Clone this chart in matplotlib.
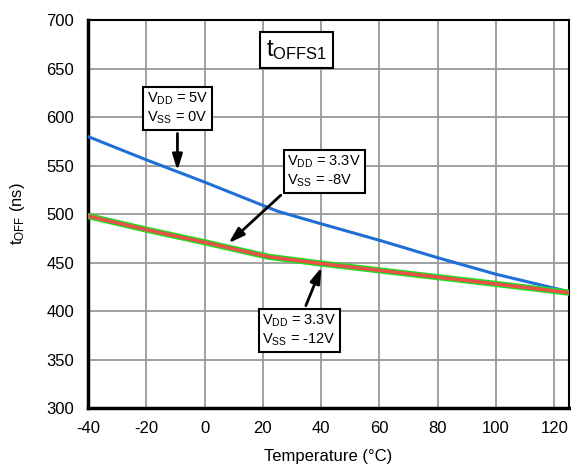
import matplotlib
matplotlib.use("Agg")
import matplotlib.pyplot as plt

plt.rcParams['font.family'] = ['Liberation Sans', 'DejaVu Sans']
plt.rcParams['mathtext.default'] = 'regular'
plt.rcParams['axes.unicode_minus'] = False

# data
temp_5v = [-40, -20, 0, 25, 40, 60, 80, 100, 125]
toff_5v = [580, 556, 533, 503, 490, 473, 455, 438, 420]

temp_33v = [-40, -20, 0, 22, 40, 60, 80, 100, 125]
toff_33v_8 = [498, 484, 471, 456, 449, 442, 435, 428, 419]
toff_33v_12 = [498, 484, 471, 456, 449, 442, 435, 428, 419]

x_ticks = [-40, -20, 0, 20, 40, 60, 80, 100, 120]
y_ticks = [300, 350, 400, 450, 500, 550, 600, 650, 700]

fig = plt.figure(figsize=(5.71, 4.68), dpi=100)
ax = fig.add_axes([0.154, 0.128, 0.8425, 0.829])

ax.plot(temp_5v, toff_5v, color='#1f6fd6', lw=2.2, zorder=3)
ax.plot(temp_33v, toff_33v_8, color='#22dd22', lw=4.5, zorder=3)
ax.plot(temp_33v, toff_33v_12, color='#e8504a', lw=2.5, zorder=4)

ax.set_xlim(-40, 125)
ax.set_ylim(300, 700)
ax.set_xticks(x_ticks)
ax.set_yticks(y_ticks)
ax.tick_params(length=0, labelsize=12)
ax.tick_params(axis='y', pad=10)
ax.tick_params(axis='x', pad=9)
ax.grid(True, color='#999999', lw=1.3)
ax.set_axisbelow(True)
for s in ax.spines.values():
    s.set_linewidth(1.5)
ax.spines['left'].set_linewidth(2.5)
ax.spines['bottom'].set_linewidth(2.5)

ax.set_xlabel('Temperature (°C)', fontsize=12, labelpad=10)
ax.set_ylabel('t$_{OFF}$ (ns)', fontsize=12, labelpad=14)

box = dict(boxstyle='square,pad=0.25', fc='white', ec='black', lw=1.5)
arrow = dict(arrowstyle='-|>,head_length=0.9,head_width=0.28', color='black', lw=2)

ax.text(31.5, 669, 't$_{OFFS1}$', fontsize=17, ha='center', va='center', bbox=box, zorder=6)

ax.annotate('V$_{DD}$ = 5V\nV$_{SS}$ = 0V', xy=(-9.3, 542), xytext=(-9.3, 609),
            fontsize=10.5, ha='center', va='center', multialignment='left', bbox=box,
            arrowprops=arrow, linespacing=1.25, zorder=6)
ax.annotate('V$_{DD}$ = 3.3V\nV$_{SS}$ = -8V', xy=(7.5, 468), xytext=(41, 544),
            fontsize=10.5, ha='center', va='center', multialignment='left', bbox=box,
            arrowprops=dict(arrow, relpos=(0.0, 0.0)), linespacing=1.25, zorder=6)
ax.annotate('V$_{DD}$ = 3.3V\nV$_{SS}$ = -12V', xy=(40.5, 448), xytext=(32.5, 380),
            fontsize=10.5, ha='center', va='center', multialignment='left', bbox=box,
            arrowprops=dict(arrow, relpos=(0.55, 1.0)), linespacing=1.25, zorder=6)

fig.savefig('out.png', dpi=100)
